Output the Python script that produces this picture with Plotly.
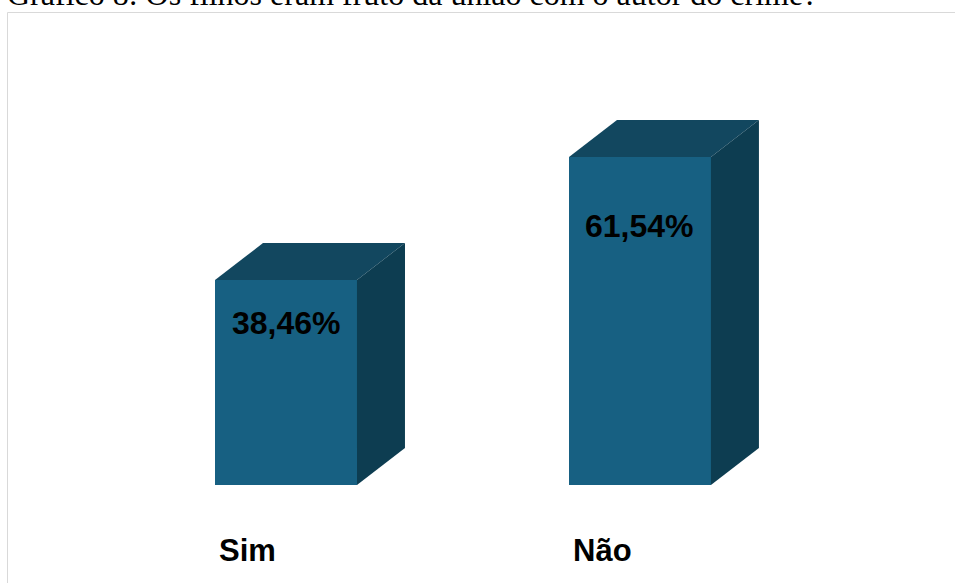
import plotly.graph_objects as go

# Chart data
categories = ["Sim", "Não"]
values = [38.46, 61.54]
value_labels = ["38,46%", "61,54%"]
title_text = "Gráfico 8: Os filhos eram fruto da união com o autor do crime?"

W, H = 955, 583
positions = list(range(len(categories)))

# Axis scales (bars sit on y = 0; categories are spaced one unit apart)
y_range = [-18.39, 90.99]
x_range = [-0.808, 1.890]
bar_w = 0.401
depth_x = 0.1356
depth_y = 6.94

front_col = "#176082"
top_col = "#12475f"
side_col = "#0d3d51"

fig = go.Figure()

# Front faces
fig.add_trace(go.Bar(
    x=positions, y=values, width=bar_w,
    marker=dict(color=front_col, line=dict(width=0)),
    hoverinfo="skip", showlegend=False,
))

# Top and side faces of the 3D blocks
for p, v in zip(positions, values):
    l, r = p - bar_w / 2, p + bar_w / 2
    fig.add_trace(go.Scatter(
        x=[l, r, r + depth_x, l + depth_x, l],
        y=[v, v, v + depth_y, v + depth_y, v],
        fill="toself", fillcolor=top_col, mode="lines",
        line=dict(width=0, color=top_col), hoverinfo="skip", showlegend=False,
    ))
    fig.add_trace(go.Scatter(
        x=[r, r + depth_x, r + depth_x, r, r],
        y=[0, depth_y, v + depth_y, v, 0],
        fill="toself", fillcolor=side_col, mode="lines",
        line=dict(width=0, color=side_col), hoverinfo="skip", showlegend=False,
    ))

annotations = []
for p, v, lab in zip(positions, values, value_labels):
    annotations.append(dict(
        x=p, y=v * 0.79, xref="x", yref="y", text="<b>" + lab + "</b>",
        showarrow=False,
        font=dict(family="Liberation Sans", size=32, color="#000000"),
        xanchor="center", yanchor="middle",
    ))
for p, cat in zip(positions, categories):
    annotations.append(dict(
        x=p - bar_w / 2 + 0.006, y=-12.3, xref="x", yref="y",
        text="<b>" + cat + "</b>", showarrow=False,
        font=dict(family="Liberation Sans", size=31, color="#000000"),
        xanchor="left", yanchor="middle",
    ))
annotations.append(dict(
    x=5 / W, y=1 - 14 / H, xref="paper", yref="paper", text=title_text,
    showarrow=False, xanchor="left", yanchor="bottom",
    font=dict(family="Liberation Serif", size=32, color="#000000"),
))

fig.update_layout(
    width=W, height=H,
    margin=dict(l=0, r=0, t=0, b=0),
    paper_bgcolor="white", plot_bgcolor="white",
    xaxis=dict(range=x_range, visible=False, fixedrange=True),
    yaxis=dict(range=y_range, visible=False, fixedrange=True),
    annotations=annotations,
    shapes=[dict(
        type="rect", xref="paper", yref="paper",
        x0=7.5 / W, x1=1.02, y0=-0.02, y1=1 - 12.5 / H,
        line=dict(color="#d9d9d9", width=1), layer="below",
    )],
    bargap=0,
)

fig.write_html("out.html")
